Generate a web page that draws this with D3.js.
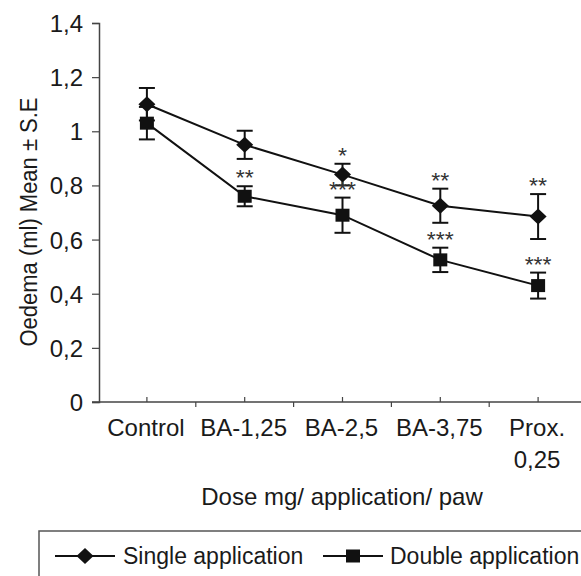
<!DOCTYPE html>
<html>
<head>
<meta charset="utf-8">
<script src="https://cdn.jsdelivr.net/npm/d3@7"></script>
<style>
  body { margin: 0; background: #fff; }
  text { font-family: "Liberation Sans", Arial, sans-serif; fill: #1a1a1a; }
</style>
</head>
<body>
<div id="chart"></div>
<script>
// data
const categories = ["Control", "BA-1,25", "BA-2,5", "BA-3,75", "Prox. 0,25"];
const singleMean = [1.10, 0.95, 0.84, 0.725, 0.685];
const singleErr  = [0.06, 0.052, 0.04, 0.063, 0.083];
const singleStars = ["", "", "*", "**", "**"];
const doubleMean = [1.03, 0.76, 0.69, 0.525, 0.43];
const doubleErr  = [0.06, 0.037, 0.065, 0.045, 0.048];
const doubleStars = ["", "**", "***", "***", "***"];
const yTicks = [0, 0.2, 0.4, 0.6, 0.8, 1.0, 1.2, 1.4];

const W = 581, H = 576;
const fs = 24;

const svg = d3.select('#chart').append('svg')
    .attr('width', W)
    .attr('height', H);

const x = d3.scaleBand().domain(categories).range([98, 587]).padding(0);
const y = d3.scaleLinear().domain([0, 1.4]).range([402, 23]);
const cx = d => x(d) + x.bandwidth() / 2;

const locale = d3.formatLocale({decimal: ",", thousands: ".", grouping: [3], currency: ["", ""]});
const fmt = locale.format(".1~f");

function label(g, tx, ty, str, anchor, size, sx = 1, rot) {
    return g.append('text')
        .attr('transform', `translate(${tx},${ty}) scale(${sx},1)` + (rot ? ` rotate(${rot})` : ''))
        .attr('text-anchor', anchor)
        .style('font-size', size + 'px')
        .text(str);
}

// y axis
const yAxis = svg.append('g')
    .attr('transform', 'translate(99,0)')
    .call(d3.axisLeft(y).tickValues(yTicks).tickSize(7).tickFormat(fmt));
yAxis.select('.domain').attr('stroke', '#444').attr('stroke-width', 1.5);
yAxis.selectAll('.tick line').attr('stroke', '#444').attr('stroke-width', 1.2);
yAxis.selectAll('.tick text')
    .attr('x', -16).attr('dy', null).attr('y', 8.5)
    .attr('fill', '#1a1a1a')
    .style('font-size', fs + 'px')
    .style('font-family', '"Liberation Sans", Arial, sans-serif');

// x axis (ticks at centres point up, at band edges point down)
const xg = svg.append('g');
xg.append('line')
    .attr('x1', 92).attr('x2', W)
    .attr('y1', y(0)).attr('y2', y(0))
    .attr('stroke', '#444').attr('stroke-width', 1.5);
xg.selectAll('line.ctick').data(categories).join('line')
    .attr('class', 'ctick')
    .attr('x1', cx).attr('x2', cx)
    .attr('y1', y(0)).attr('y2', y(0) - 5)
    .attr('stroke', '#444').attr('stroke-width', 1.2);
xg.selectAll('line.btick').data(categories.slice(1)).join('line')
    .attr('class', 'btick')
    .attr('x1', d => x(d)).attr('x2', d => x(d))
    .attr('y1', y(0)).attr('y2', y(0) + 5)
    .attr('stroke', '#444').attr('stroke-width', 1.2);
categories.forEach(c => {
    const parts = c === "Prox. 0,25" ? ["Prox.", "0,25"] : [c];
    parts.forEach((p, i) => label(xg, cx(c) - 1, 436 + i * 32, p, 'middle', fs));
});

// axis titles
label(svg, 342, 505, "Dose mg/ application/ paw", 'middle', fs);
label(svg, 37, 222, "Oedema (ml) Mean ± S.E", 'middle', 22, 1.1, -90);

// series
const series = [
    {name: "Single application", mean: singleMean, err: singleErr, stars: singleStars, shape: 'diamond'},
    {name: "Double application", mean: doubleMean, err: doubleErr, stars: doubleStars, shape: 'square'}
];

const line = d3.line().x((d, i) => cx(categories[i])).y(d => y(d));

function marker(g, shape) {
    if (shape === 'diamond') {
        g.append('path').attr('d', 'M0,-8L8.5,0L0,8L-8.5,0Z').attr('fill', '#111');
    } else {
        g.append('rect').attr('x', -7).attr('y', -6.5).attr('width', 14).attr('height', 13).attr('fill', '#111');
    }
}

series.forEach(s => {
    svg.append('path')
        .datum(s.mean)
        .attr('d', line)
        .attr('fill', 'none')
        .attr('stroke', '#111')
        .attr('stroke-width', 2);

    const eb = svg.append('g');
    s.mean.forEach((m, i) => {
        const px = cx(categories[i]);
        const t = y(m + s.err[i]), b = y(m - s.err[i]);
        eb.append('line').attr('x1', px).attr('x2', px).attr('y1', t).attr('y2', b);
        eb.append('line').attr('x1', px - 8).attr('x2', px + 8).attr('y1', t).attr('y2', t);
        eb.append('line').attr('x1', px - 8).attr('x2', px + 8).attr('y1', b).attr('y2', b);
    });
    eb.selectAll('line').attr('stroke', '#111').attr('stroke-width', 2);
});

series.forEach(s => {
    s.mean.forEach((m, i) => {
        const g = svg.append('g').attr('transform', `translate(${cx(categories[i])},${y(m)})`);
        marker(g, s.shape);
    });
});

series.forEach(s => {
    s.mean.forEach((m, i) => {
        if (!s.stars[i]) return;
        label(svg, cx(categories[i]), y(m + s.err[i]) - 1, s.stars[i], 'middle', 22, 1.05)
            .style('fill', '#333');
    });
});

// legend
const lg = svg.append('g');
lg.append('rect')
    .attr('x', 39).attr('y', 531)
    .attr('width', 600).attr('height', 100)
    .attr('fill', 'none').attr('stroke', '#555').attr('stroke-width', 1.5);
const legendX = [[55, 115, 123], [323, 383, 390]];
series.forEach((s, i) => {
    const [a, b, t] = legendX[i];
    lg.append('line').attr('x1', a).attr('x2', b).attr('y1', 556).attr('y2', 556)
        .attr('stroke', '#111').attr('stroke-width', 2);
    marker(lg.append('g').attr('transform', `translate(${(a + b) / 2},556)`), s.shape);
    label(lg, t, 564, s.name, 'start', 23);
});
</script>
</body>
</html>
